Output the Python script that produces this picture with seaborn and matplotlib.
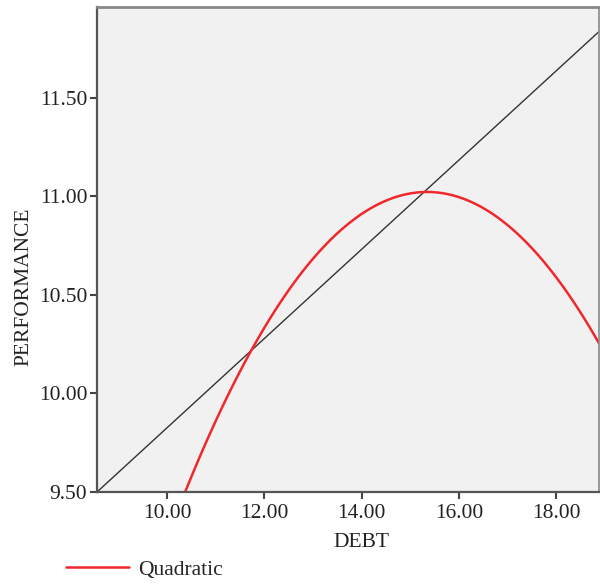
import seaborn as sns
import matplotlib.pyplot as plt
from matplotlib.lines import Line2D
import pandas as pd

# points
debt_curve = [10.43, 11.03, 11.85, 12.52, 12.73, 13.20, 13.90, 14.57, 15.25,
              15.60, 15.95, 16.28, 16.97, 17.65, 18.33, 18.86]
perf_curve = [9.51, 9.90, 10.26, 10.56, 10.59, 10.74, 10.90, 10.97, 11.02,
              11.02, 11.00, 10.98, 10.86, 10.66, 10.47, 10.29]

# end points of the straight black line
debt_line = [8.56, 18.88]
perf_line = [9.50, 11.835]

x_ticks = [10, 12, 14, 16, 18]
y_ticks = [9.5, 10.0, 10.5, 11.0, 11.5]

curve = pd.DataFrame({'DEBT': debt_curve, 'PERFORMANCE': perf_curve})
line = pd.DataFrame({'DEBT': debt_line, 'PERFORMANCE': perf_line})

sns.set_theme(style="white")
plt.rcParams['font.family'] = ['Liberation Serif', 'DejaVu Serif']

fs = 15.5
fig = plt.figure(figsize=(6, 5.85), dpi=100)
ax = fig.add_axes([0.1617, 0.159, 0.8365, 0.829])
ax.set_facecolor('#f0f1f0')
xlim = (8.56, 18.88)
ylim = (9.5, 11.96)
ax.set_xlim(xlim)
ax.set_ylim(ylim)

sns.lineplot(data=line, x='DEBT', y='PERFORMANCE', color='#333333',
             linewidth=1.0, ax=ax)
# quadratic fit through the read points, drawn across the full x range
sns.regplot(data=curve, x='DEBT', y='PERFORMANCE', order=2, ci=None,
            scatter=False, truncate=False, color='#f0282d',
            line_kws={'linewidth': 1.8}, ax=ax)
ax.set_xlim(xlim)
ax.set_ylim(ylim)

ax.set_xticks(x_ticks)
ax.set_yticks(y_ticks)
ax.set_xticklabels([f'{v:.2f}' for v in x_ticks])
ax.set_yticklabels([f'{v:.2f}' for v in y_ticks])
ax.tick_params(axis='both', labelsize=fs, length=5, width=1.5,
               direction='out', color='#444444', labelcolor='#222222', pad=2)
ax.tick_params(axis='x', bottom=True, pad=4)
ax.tick_params(axis='y', left=True)

for side in ['left', 'bottom']:
    ax.spines[side].set_color('#555555')
    ax.spines[side].set_linewidth(1.6)
ax.spines['top'].set_color('#888888')
ax.spines['top'].set_linewidth(2)
ax.spines['right'].set_color('#888888')
ax.spines['right'].set_linewidth(1.2)

ax.set_xlabel('DEBT', fontsize=fs, color='#222222')
ax.set_ylabel('PERFORMANCE', fontsize=fs, color='#222222')
ax.xaxis.set_label_coords(0.527, -0.085)
ax.yaxis.set_label_coords(-0.127, 0.423)

handle = Line2D([], [], color='#f0282d', linewidth=1.8)
fig.legend([handle], ['Quadratic'], loc='center left',
           bbox_to_anchor=(0.078, 0.026), frameon=False, fontsize=fs,
           handlelength=2.9, handletextpad=0.45)

fig.savefig('out.png', dpi=100)
